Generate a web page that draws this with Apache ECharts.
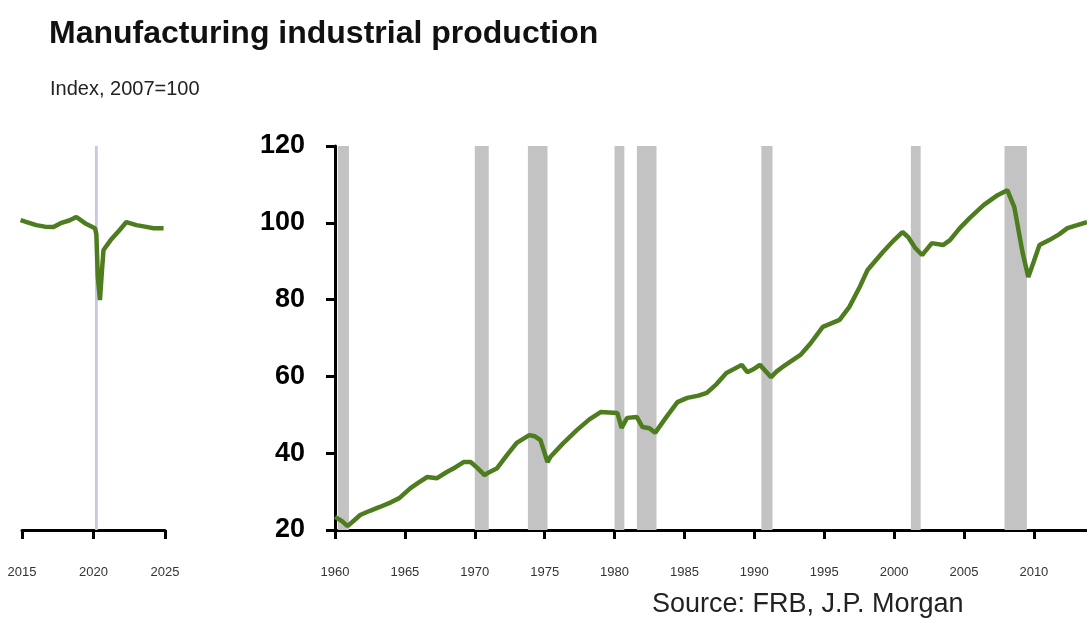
<!DOCTYPE html>
<html>
<head>
<meta charset="utf-8">
<script src="https://cdn.jsdelivr.net/npm/echarts@6.0.0/dist/echarts.min.js"></script>
<style>
html,body{margin:0;padding:0;background:#fff;}
#chart{width:1087px;height:625px;}
</style>
</head>
<body>
<div id="chart"></div>
<script>
// ---- Data ----
const histYears = [1960.0,1960.5,1960.9,1961.4,1961.8,1962.5,1963.2,1964.0,1964.6,1965.4,1966.0,1966.6,1967.3,1968.0,1968.6,1969.2,1969.7,1970.2,1970.7,1971.0,1971.6,1972.3,1973.0,1973.9,1974.3,1974.7,1975.2,1975.4,1976.3,1977.3,1978.2,1979.0,1979.6,1980.2,1980.5,1980.9,1981.6,1982.0,1982.5,1982.9,1983.7,1984.5,1985.2,1986.0,1986.6,1987.3,1988.0,1989.1,1989.5,1990.0,1990.4,1991.2,1991.6,1992.0,1993.3,1994.0,1994.9,1996.1,1996.8,1997.5,1998.1,1999.2,2000.0,2000.6,2001.0,2001.5,2002.0,2002.7,2003.5,2004.0,2004.7,2005.4,2006.4,2007.4,2008.1,2008.6,2009.2,2009.6,2010.0,2010.4,2011.1,2011.8,2012.4,2013.1,2013.8];
const histValues = [23.4,22.3,21.0,22.6,23.9,25.0,26.0,27.2,28.3,30.9,32.4,33.8,33.5,35.1,36.3,37.7,37.7,36.1,34.3,35.0,36.1,39.5,42.7,44.7,44.4,43.4,37.7,39.0,42.5,46.0,48.8,50.7,50.6,50.5,46.6,49.2,49.4,46.8,46.5,45.3,49.4,53.3,54.4,55.0,55.7,58.0,60.9,63.0,61.1,62.0,63.0,59.8,61.3,62.4,65.6,68.5,72.9,74.7,78.1,83.0,87.7,92.4,95.5,97.6,96.3,93.5,91.6,94.7,94.2,95.5,98.6,101.2,104.6,107.2,108.5,104.1,92.1,85.9,90.0,94.2,95.5,97.0,98.6,99.4,100.2];

const recentYears = [2014.9,2015.5,2016.0,2016.6,2017.2,2017.7,2018.3,2018.8,2019.4,2020.1,2020.2,2020.3,2020.45,2020.6,2020.7,2021.2,2021.8,2022.3,2023.0,2023.6,2024.2,2024.9];
const recentValues = [100.7,100.0,99.4,99.0,98.9,99.9,100.6,101.5,99.9,98.6,97.0,86.0,79.9,88.0,92.9,95.5,98.0,100.2,99.4,99.0,98.6,98.6];

const recessionStart = [1960.2,1970.0,1973.8,1980.0,1981.6,1990.5,2001.2,2007.9];
const recessionEnd   = [1961.0,1971.0,1975.2,1980.7,1983.0,1991.3,2001.9,2009.5];
const recentRecessionStart = [2020.1];
const recentRecessionEnd   = [2020.3];

const yMin = 20, yMax = 120, yStep = 20;
const histXMin = 1960, histXMax = 2013.8, xStep = 5;
const recentXMin = 2015, recentXMax = 2025;

const titleText = 'Manufacturing industrial production';
const subtitleText = 'Index, 2007=100';
const sourceText = 'Source: FRB, J.P. Morgan';

// ---- Chart ----
const NARROW = "'Liberation Sans Narrow','Arial Narrow','Liberation Sans',Arial,sans-serif";
const LINE_COLOR = '#4e7d1f';
const SHADE = '#c3c3c3';

const histData = histYears.map((y, i) => [y, histValues[i]]);
const recentData = recentYears.map((y, i) => [y, recentValues[i]]);
const histAreas = recessionStart.map((s, i) => [{xAxis: s}, {xAxis: recessionEnd[i]}]);
const recentAreas = recentRecessionStart.map((s, i) => [{xAxis: s}, {xAxis: recentRecessionEnd[i]}]);

const chart = echarts.init(document.getElementById('chart'), null, {renderer: 'canvas'});

const xAxisCommon = {
  type: 'value',
  interval: xStep,
  splitLine: {show: false},
  axisLine: {show: true, onZero: false, lineStyle: {color: '#000', width: 3}},
  axisTick: {show: true, inside: false, length: 9, lineStyle: {color: '#000', width: 3}},
  axisLabel: {show: true, margin: 36, fontSize: 13, color: '#333', fontFamily: NARROW,
              showMaxLabel: false, formatter: v => String(Math.round(v))}
};

chart.setOption({
  animation: false,
  backgroundColor: '#fff',
  title: {
    text: titleText,
    left: 44, top: 13,
    textStyle: {fontFamily: NARROW, fontWeight: 'bold', fontSize: 32, color: '#111'}
  },
  graphic: [
    {type: 'text', left: 50, top: 79,
     style: {text: subtitleText, fontFamily: NARROW, fontSize: 20, fill: '#222'}},
    {type: 'text', left: 652, top: 591,
     style: {text: sourceText, fontFamily: NARROW, fontSize: 27, fill: '#222'}}
  ],
  grid: [
    {left: 335, right: 0, top: 146, bottom: 95, containLabel: false},
    {left: 22, width: 143, top: 146, bottom: 95, containLabel: false}
  ],
  xAxis: [
    Object.assign({}, xAxisCommon, {gridIndex: 0, min: histXMin, max: histXMax}),
    Object.assign({}, xAxisCommon, {gridIndex: 1, min: recentXMin, max: recentXMax,
      axisLabel: Object.assign({}, xAxisCommon.axisLabel, {showMaxLabel: true})})
  ],
  yAxis: [
    {type: 'value', gridIndex: 0, min: yMin, max: yMax, interval: yStep,
     splitLine: {show: false},
     axisLine: {show: true, lineStyle: {color: '#000', width: 3}},
     axisTick: {show: true, length: 9, lineStyle: {color: '#000', width: 3}},
     axisLabel: {margin: 30, fontSize: 27, fontWeight: 'bold', color: '#000', fontFamily: NARROW}},
    {type: 'value', gridIndex: 1, min: yMin, max: yMax, interval: yStep, show: false}
  ],
  series: [
    {type: 'line', xAxisIndex: 0, yAxisIndex: 0, data: histData, showSymbol: false,
     lineStyle: {color: LINE_COLOR, width: 4.5}, z: 5,
     markArea: {silent: true, itemStyle: {color: SHADE}, data: histAreas}},
    {type: 'line', xAxisIndex: 1, yAxisIndex: 1, data: recentData, showSymbol: false,
     lineStyle: {color: LINE_COLOR, width: 4.5}, z: 5,
     markArea: {silent: true, itemStyle: {color: '#c8c8e2'}, data: recentAreas}}
  ]
});
</script>
</body>
</html>
